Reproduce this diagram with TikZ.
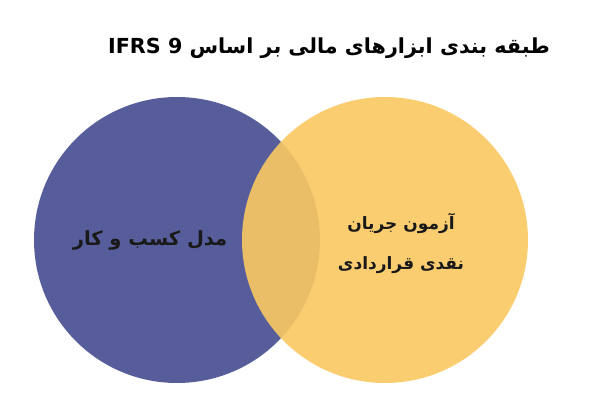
\documentclass[tikz,border=0pt]{standalone}
\usepackage{fontspec}
\usepackage{tikz}
\usepackage{xcolor}
\usetikzlibrary{positioning}
\TeXXeTstate=1
\newfontfamily\arabicfont[Script=Arabic]{DejaVu Sans}
\definecolor{bizblue}{RGB}{87,93,155}
\definecolor{cashyellow}{RGB}{250,200,98}
\tikzset{
    titletext/.style={font=\arabicfont\bfseries\fontsize{20.7}{24}\selectfont, text=black},
    circletext/.style={font=\arabicfont\bfseries\fontsize{17}{40}\selectfont, text=black!90, align=center}
}

\begin{document}
\begin{tikzpicture}[x=1pt,y=-1pt]
    \useasboundingbox (0,0) rectangle (600,414);

    % Business model (left)
    \fill[bizblue] (177,240) circle (143pt);

    % Contractual cash flow test (right), drawn over the left one
    \fill[cashyellow, opacity=0.9] (385,240) circle (143pt);

    % Title
    \node[titletext] (title) at (329,48) {\beginR طبقه بندی ابزارهای مالی بر اساس \beginL IFRS 9\endL\endR};

    % Labels
    \node[circletext, font=\arabicfont\bfseries\fontsize{19.5}{24}\selectfont] (bizmodel) at (150,240) {\beginR مدل کسب و کار\endR};
    \node[circletext] (cashtest) at (401,243) {\beginR آزمون جریان\endR\\\beginR نقدی قراردادی\endR};

\end{tikzpicture}
\end{document}
